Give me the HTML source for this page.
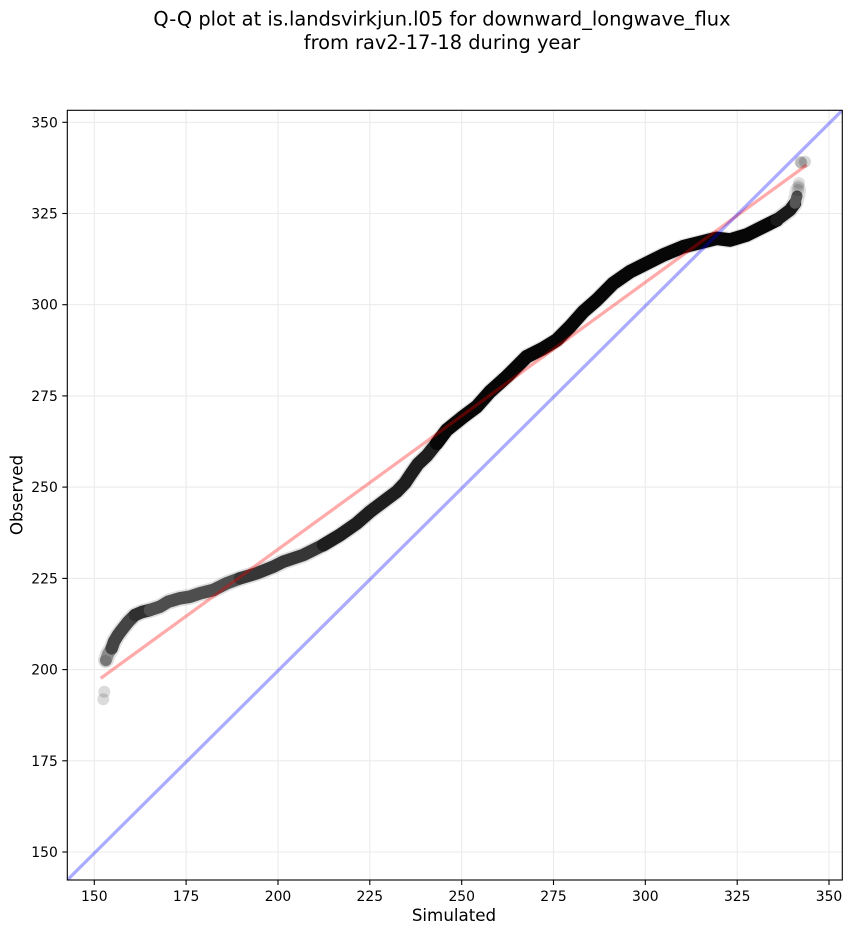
<!DOCTYPE html>
<html>
<head>
<meta charset="utf-8">
<style>
  html, body { margin: 0; padding: 0; background: #ffffff; }
  svg { display: block; }
  text { font-family: "DejaVu Sans", "Liberation Sans", sans-serif; fill: #000; }
</style>
</head>
<body>
<svg width="852" height="934" viewBox="0 0 852 934" xmlns="http://www.w3.org/2000/svg">
  <defs>
    <clipPath id="ax">
      <rect x="67.3" y="110.3" width="775" height="769.7"/>
    </clipPath>
  </defs>
  <rect x="0" y="0" width="852" height="934" fill="#ffffff"/>

  <!-- Title -->
  <text x="442" y="25.5" font-size="19.4" text-anchor="middle">Q-Q plot at is.landsvirkjun.l05 for downward_longwave_flux</text>
  <text x="442" y="48.8" font-size="19.4" text-anchor="middle">from rav2-17-18 during year</text>

  <!-- Grid -->
  <g stroke="#ebebeb" stroke-width="1.1" clip-path="url(#ax)">
    <line x1="94.3" y1="110" x2="94.3" y2="880"/>
    <line x1="186.1" y1="110" x2="186.1" y2="880"/>
    <line x1="278.0" y1="110" x2="278.0" y2="880"/>
    <line x1="369.8" y1="110" x2="369.8" y2="880"/>
    <line x1="461.7" y1="110" x2="461.7" y2="880"/>
    <line x1="553.5" y1="110" x2="553.5" y2="880"/>
    <line x1="645.3" y1="110" x2="645.3" y2="880"/>
    <line x1="737.2" y1="110" x2="737.2" y2="880"/>
    <line x1="829.0" y1="110" x2="829.0" y2="880"/>
    <line x1="67" y1="122.3" x2="843" y2="122.3"/>
    <line x1="67" y1="213.5" x2="843" y2="213.5"/>
    <line x1="67" y1="304.7" x2="843" y2="304.7"/>
    <line x1="67" y1="395.9" x2="843" y2="395.9"/>
    <line x1="67" y1="487.1" x2="843" y2="487.1"/>
    <line x1="67" y1="578.4" x2="843" y2="578.4"/>
    <line x1="67" y1="669.6" x2="843" y2="669.6"/>
    <line x1="67" y1="760.8" x2="843" y2="760.8"/>
    <line x1="67" y1="852.0" x2="843" y2="852.0"/>
  </g>

  <!-- Scatter (approximated as thick translucent bands) -->
  <g clip-path="url(#ax)" fill="none" stroke-linecap="round" stroke-linejoin="round">
    <!-- soft halo -->
    <polyline stroke="#000" stroke-opacity="0.13" stroke-width="16"
      points="106,660 108,654 111.7,648.3 114,641.7 118,635 121.7,630 128.3,621.7 135,615 142,612 150,610 160,606.7 168.3,601.7 180,598.3 190,596.7 200,593.3 213.3,590 226.7,583.3 240,578.3 256.7,573.3 273.3,566.7 283.3,561.7 303.3,555 323.3,545 340,535 356.7,523.3 370,511.7 383.3,501.7 396.7,491.7 405,483 411,474 418,464 427,455.5 436.7,443.3 446.7,430 463.3,416.7 476.7,406.7 490,391.7 506.7,376.7 526.7,356.7 543.3,348.3 556.7,340 570,326.7 583.3,311.7 596.7,300 613.3,283.3 630,271.7 646.7,263.3 663.3,255 683.3,246.7 703.3,241.7 716.7,238.3 730,240 746.7,235 763.3,226.7 776.7,220 790,210 795,203.3 797,196 798,190"/>
    <polyline stroke="#8a8a8a" stroke-width="12" points="106,660 108,654 111.7,648.3"/>
    <polyline stroke="#444" stroke-width="12.5" points="111.7,648.3 114,641.7 118,635 121.7,630 128.3,621.7 135,615"/>
    <polyline stroke="#303030" stroke-width="12.5" points="135,615 142,612 150,610"/>
    <polyline stroke="#4e4e4e" stroke-width="12.5" points="150,610 160,606.7 168.3,601.7 180,598.3 190,596.7 200,593.3 213.3,590 226.7,583.3 240,578.3"/>
    <polyline stroke="#363636" stroke-width="12.5" points="240,578.3 256.7,573.3 273.3,566.7 283.3,561.7 303.3,555 323.3,545"/>
    <polyline stroke="#1e1e1e" stroke-width="13" points="323.3,545 340,535 356.7,523.3 370,511.7 383.3,501.7 396.7,491.7 405,483 411,474 418,464 427,455.5 436.7,443.3"/>
    <polyline stroke="#070707" stroke-width="13.5" points="436.7,443.3 446.7,430 463.3,416.7 476.7,406.7 490,391.7 506.7,376.7 526.7,356.7 543.3,348.3 556.7,340 570,326.7 583.3,311.7 596.7,300 613.3,283.3 630,271.7 646.7,263.3 663.3,255 683.3,246.7 703.3,241.7 716.7,238.3 730,240 746.7,235 763.3,226.7 776.7,220"/>
    <polyline stroke="#1a1a1a" stroke-width="12.5" points="776.7,220 790,210 795,203.3"/>
    <polyline stroke="#555" stroke-width="11" points="795,203.3 797,196"/>
  </g>
  <!-- individual faint points -->
  <g fill="#000" clip-path="url(#ax)">
    <circle cx="103.3" cy="699.3" r="6" fill-opacity="0.14"/>
    <circle cx="104.3" cy="691.7" r="6" fill-opacity="0.14"/>
    <circle cx="105.5" cy="661" r="6" fill-opacity="0.14"/>
    <circle cx="798" cy="190" r="6" fill-opacity="0.14"/>
    <circle cx="798.5" cy="186" r="6" fill-opacity="0.12"/>
    <circle cx="799" cy="183" r="6" fill-opacity="0.12"/>
    <circle cx="800.5" cy="162" r="6" fill-opacity="0.16"/>
    <circle cx="801.5" cy="163" r="6" fill-opacity="0.14"/>
    <circle cx="805" cy="161.7" r="6" fill-opacity="0.16"/>
  </g>

  <!-- Reference lines -->
  <g clip-path="url(#ax)" stroke-linecap="butt">
    <line x1="100.7" y1="678.3" x2="806.7" y2="165" stroke="#ff0000" stroke-opacity="0.33" stroke-width="3.3"/>
    <line x1="67.3" y1="880" x2="842.3" y2="110.3" stroke="#0000ff" stroke-opacity="0.33" stroke-width="3.3"/>
  </g>

  <!-- Axes frame -->
  <rect x="67.3" y="110.3" width="775" height="769.7" fill="none" stroke="#000" stroke-width="1.1"/>

  <!-- Ticks -->
  <g stroke="#000" stroke-width="1.1">
    <line x1="94.3" y1="880" x2="94.3" y2="885"/>
    <line x1="186.1" y1="880" x2="186.1" y2="885"/>
    <line x1="278.0" y1="880" x2="278.0" y2="885"/>
    <line x1="369.8" y1="880" x2="369.8" y2="885"/>
    <line x1="461.7" y1="880" x2="461.7" y2="885"/>
    <line x1="553.5" y1="880" x2="553.5" y2="885"/>
    <line x1="645.3" y1="880" x2="645.3" y2="885"/>
    <line x1="737.2" y1="880" x2="737.2" y2="885"/>
    <line x1="829.0" y1="880" x2="829.0" y2="885"/>
    <line x1="62.3" y1="122.3" x2="67.3" y2="122.3"/>
    <line x1="62.3" y1="213.5" x2="67.3" y2="213.5"/>
    <line x1="62.3" y1="304.7" x2="67.3" y2="304.7"/>
    <line x1="62.3" y1="395.9" x2="67.3" y2="395.9"/>
    <line x1="62.3" y1="487.1" x2="67.3" y2="487.1"/>
    <line x1="62.3" y1="578.4" x2="67.3" y2="578.4"/>
    <line x1="62.3" y1="669.6" x2="67.3" y2="669.6"/>
    <line x1="62.3" y1="760.8" x2="67.3" y2="760.8"/>
    <line x1="62.3" y1="852.0" x2="67.3" y2="852.0"/>
  </g>

  <!-- X tick labels -->
  <g font-size="13.9" text-anchor="middle">
    <text x="94.3" y="901">150</text>
    <text x="186.1" y="901">175</text>
    <text x="278.0" y="901">200</text>
    <text x="369.8" y="901">225</text>
    <text x="461.7" y="901">250</text>
    <text x="553.5" y="901">275</text>
    <text x="645.3" y="901">300</text>
    <text x="737.2" y="901">325</text>
    <text x="829.0" y="901">350</text>
  </g>
  <!-- Y tick labels -->
  <g font-size="13.9" text-anchor="end">
    <text x="57.8" y="127.3">350</text>
    <text x="57.8" y="218.5">325</text>
    <text x="57.8" y="309.7">300</text>
    <text x="57.8" y="400.9">275</text>
    <text x="57.8" y="492.1">250</text>
    <text x="57.8" y="583.4">225</text>
    <text x="57.8" y="674.6">200</text>
    <text x="57.8" y="765.8">175</text>
    <text x="57.8" y="857.0">150</text>
  </g>

  <!-- Axis labels -->
  <text x="454" y="921" font-size="16.7" text-anchor="middle">Simulated</text>
  <text x="0" y="0" font-size="16.7" text-anchor="middle" transform="translate(22.5,495) rotate(-90)">Observed</text>
</svg>
</body>
</html>
